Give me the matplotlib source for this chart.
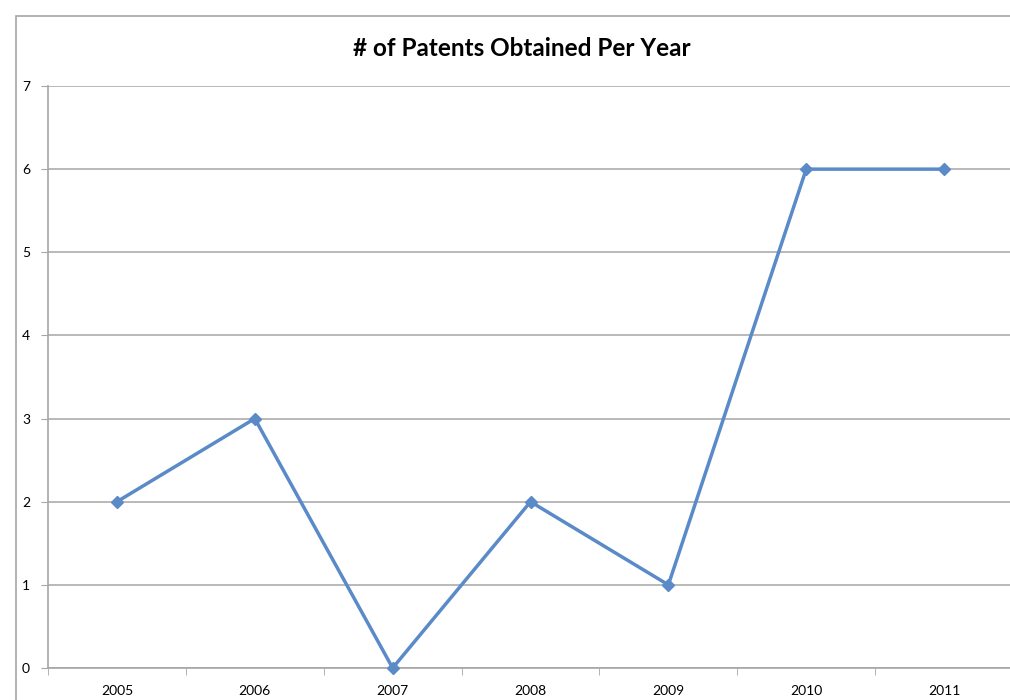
import matplotlib
matplotlib.use("Agg")
from matplotlib import pyplot as plt
from matplotlib.patches import Rectangle

years = ['2005', '2006', '2007', '2008', '2009', '2010', '2011']
patents = [2, 3, 0, 2, 1, 6, 6]

plt.rcParams['font.family'] = ['Lato', 'DejaVu Sans']

fig = plt.figure(figsize=(10.1, 7.0), dpi=100)
W, H = 1010.0, 700.0

# outer chart-area frame (cropped on right/bottom)
fig.patches.append(Rectangle((16 / W, -0.1), 1.2, 1 - 16 / H + 0.1,
                             transform=fig.transFigure, fill=False,
                             edgecolor='#a6a6a6', linewidth=1.2))

ax = fig.add_axes([48 / W, 1 - 668 / H, (1013 - 48) / W, (668 - 86) / H])
x = list(range(len(years)))
ax.plot(x, patents, color='#5a8bc8', linewidth=2.5, marker='D',
        markersize=6, markerfacecolor='#5a8bc8', markeredgecolor='#5a8bc8',
        clip_on=False, zorder=3)

ax.set_xlim(-0.5, len(years) - 0.5)
ax.set_ylim(0, 7)
ax.set_yticks(range(0, 8))
ax.set_xticks(x)
ax.set_xticklabels(years)
ax.set_xticks([i - 0.5 for i in range(len(years) + 1)], minor=True)
ax.tick_params(axis='x', which='major', length=0, pad=12, labelsize=10)
ax.tick_params(axis='x', which='minor', length=5, color='#a6a6a6', direction='out')
ax.tick_params(axis='y', length=5, color='#a6a6a6', pad=8, labelsize=10)

ax.yaxis.grid(True, color='#a6a6a6', linewidth=1.1)
ax.set_axisbelow(True)
for s in ['top', 'right']:
    ax.spines[s].set_visible(False)
for s in ['left', 'bottom']:
    ax.spines[s].set_color('#a6a6a6')
    ax.spines[s].set_linewidth(1.2)

fig.text(522 / W, 1 - 48 / H, '# of Patents Obtained Per Year',
         ha='center', va='center', fontsize=17.5, fontweight='bold')

plt.savefig('out.png', dpi=100)
